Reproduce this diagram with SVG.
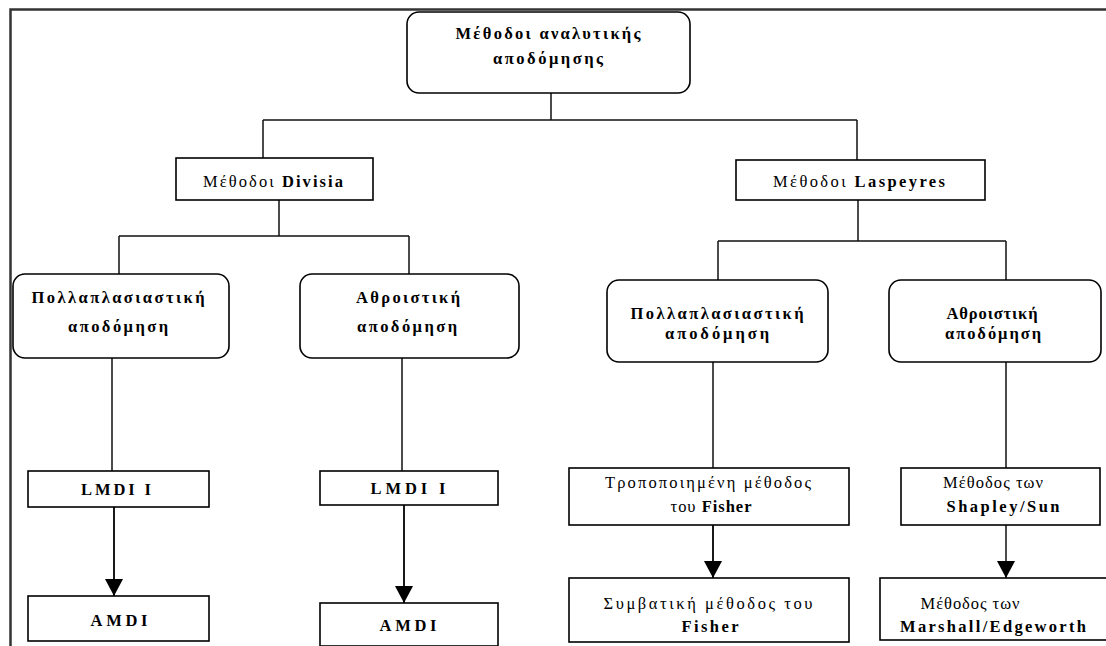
<svg xmlns="http://www.w3.org/2000/svg" width="1106" height="646" viewBox="0 0 1106 646">
<defs>
<marker id="arr" markerUnits="userSpaceOnUse" viewBox="0 0 17 18" markerWidth="17" markerHeight="18" refX="17" refY="9" orient="auto">
<path d="M0,0 L17,9 L0,18 z" fill="#000"/>
</marker>
<style>
.box{fill:#fff;stroke:#000;stroke-width:1.6}
.rbox{fill:#fff;stroke:#000;stroke-width:1.6}
.t{font-family:"Liberation Serif","DejaVu Serif",serif;font-size:16.5px;fill:#000;text-anchor:middle}
.b{font-weight:bold}
.c{fill:none;stroke:#111;stroke-width:1.5}
.a{fill:none;stroke:#000;stroke-width:1.8}
.frame{fill:none;stroke:#333;stroke-width:2.5}
</style>
</defs>
<rect width="1106" height="646" fill="#fff"/>
<path class="frame" d="M10.5,646 V9.5 H1106"/>

<g id="connectors">
<path class="c" d="M551,93 V120 M263,120 H857 M263,120 V158 M857,120 V160"/>
<path class="c" d="M279,200 V236 M119,236 H409 M119,236 V274 M409,236 V274"/>
<path class="c" d="M858,200 V241 M718,241 H1006 M718,241 V280 M1006,241 V280"/>
<path class="c" d="M112,358 V471 M402,358 V471 M713,362 V468 M1006,362 V468"/>
<path class="a" d="M114,507 V596" marker-end="url(#arr)"/>
<path class="a" d="M404,505 V603" marker-end="url(#arr)"/>
<path class="a" d="M713,525 V578" marker-end="url(#arr)"/>
<path class="c" d="M1006,525 V578" marker-end="url(#arr)"/>
</g>

<g id="root">
<rect class="rbox" x="407" y="12" width="283" height="81" rx="12"/>
<text class="t b" x="548" y="39" textLength="185" lengthAdjust="spacing">Μέθοδοι αναλυτικής</text>
<text class="t b" x="548" y="64" textLength="110" lengthAdjust="spacing">αποδόμησης</text>
</g>

<g id="divisia">
<rect class="box" x="176" y="158" width="197" height="42"/>
<text class="t" x="273" y="187" textLength="140" lengthAdjust="spacing">Μέθοδοι <tspan class="b">Divisia</tspan></text>
</g>

<g id="laspeyres">
<rect class="box" x="736" y="160" width="249" height="40"/>
<text class="t" x="859" y="187" textLength="172" lengthAdjust="spacing">Μέθοδοι <tspan class="b">Laspeyres</tspan></text>
</g>

<g id="div-mult">
<rect class="rbox" x="13" y="274" width="216" height="84" rx="12"/>
<text class="t b" x="118" y="303" textLength="173" lengthAdjust="spacing">Πολλαπλασιαστική</text>
<text class="t b" x="118" y="332" textLength="100" lengthAdjust="spacing">αποδόμηση</text>
</g>

<g id="div-add">
<rect class="rbox" x="300" y="274" width="219" height="84" rx="12"/>
<text class="t b" x="408" y="303" textLength="104" lengthAdjust="spacing">Αθροιστική</text>
<text class="t b" x="407" y="332" textLength="100" lengthAdjust="spacing">αποδόμηση</text>
</g>

<g id="las-mult">
<rect class="rbox" x="607" y="280" width="221" height="82" rx="12"/>
<text class="t b" x="717" y="319" textLength="173" lengthAdjust="spacing">Πολλαπλασιαστική</text>
<text class="t b" x="717" y="339" textLength="104" lengthAdjust="spacing">αποδόμηση</text>
</g>

<g id="las-add">
<rect class="rbox" x="889" y="280" width="212" height="82" rx="12"/>
<text class="t b" x="992" y="319" textLength="91" lengthAdjust="spacing">Αθροιστική</text>
<text class="t b" x="993" y="339" textLength="96" lengthAdjust="spacing">αποδόμηση</text>
</g>

<g id="lmdi-1">
<rect class="box" x="28" y="471" width="181" height="36"/>
<text class="t b" x="116" y="495" textLength="70" lengthAdjust="spacing">LMDI  I</text>
</g>

<g id="amdi-1">
<rect class="box" x="28" y="596" width="181" height="45"/>
<text class="t b" x="119" y="626" textLength="57" lengthAdjust="spacing">AMDI</text>
</g>

<g id="lmdi-2">
<rect class="box" x="320" y="471" width="178" height="34"/>
<text class="t b" x="408" y="494" textLength="75" lengthAdjust="spacing">LMDI  I</text>
</g>

<g id="amdi-2">
<rect class="box" x="320" y="603" width="178" height="43"/>
<text class="t b" x="408" y="631" textLength="57" lengthAdjust="spacing">AMDI</text>
</g>

<g id="fisher-mod">
<rect class="box" x="569" y="468" width="280" height="57"/>
<text class="t" x="708" y="488" textLength="206" lengthAdjust="spacing">Τροποποιημένη  μέθοδος</text>
<text class="t" x="711" y="512" textLength="81" lengthAdjust="spacing">του <tspan class="b">Fisher</tspan></text>
</g>

<g id="shapley">
<rect class="box" x="901" y="468" width="199" height="57"/>
<text class="t" x="993" y="488" textLength="100" lengthAdjust="spacing">Μέθοδος των</text>
<text class="t b" x="1003" y="512" textLength="113" lengthAdjust="spacing">Shapley/Sun</text>
</g>

<g id="fisher-conv">
<rect class="box" x="569" y="578" width="280" height="64"/>
<text class="t" x="708" y="609" textLength="209" lengthAdjust="spacing">Συμβατική   μέθοδος του</text>
<text class="t b" x="710" y="632" textLength="57" lengthAdjust="spacing">Fisher</text>
</g>

<g id="marshall">
<rect class="box" x="880" y="578" width="240" height="62"/>
<text class="t" x="970" y="609" textLength="99" lengthAdjust="spacing">Μέθοδος των</text>
<text class="t b" x="993" y="632" textLength="186" lengthAdjust="spacing">Marshall/Edgeworth</text>
</g>
</svg>
